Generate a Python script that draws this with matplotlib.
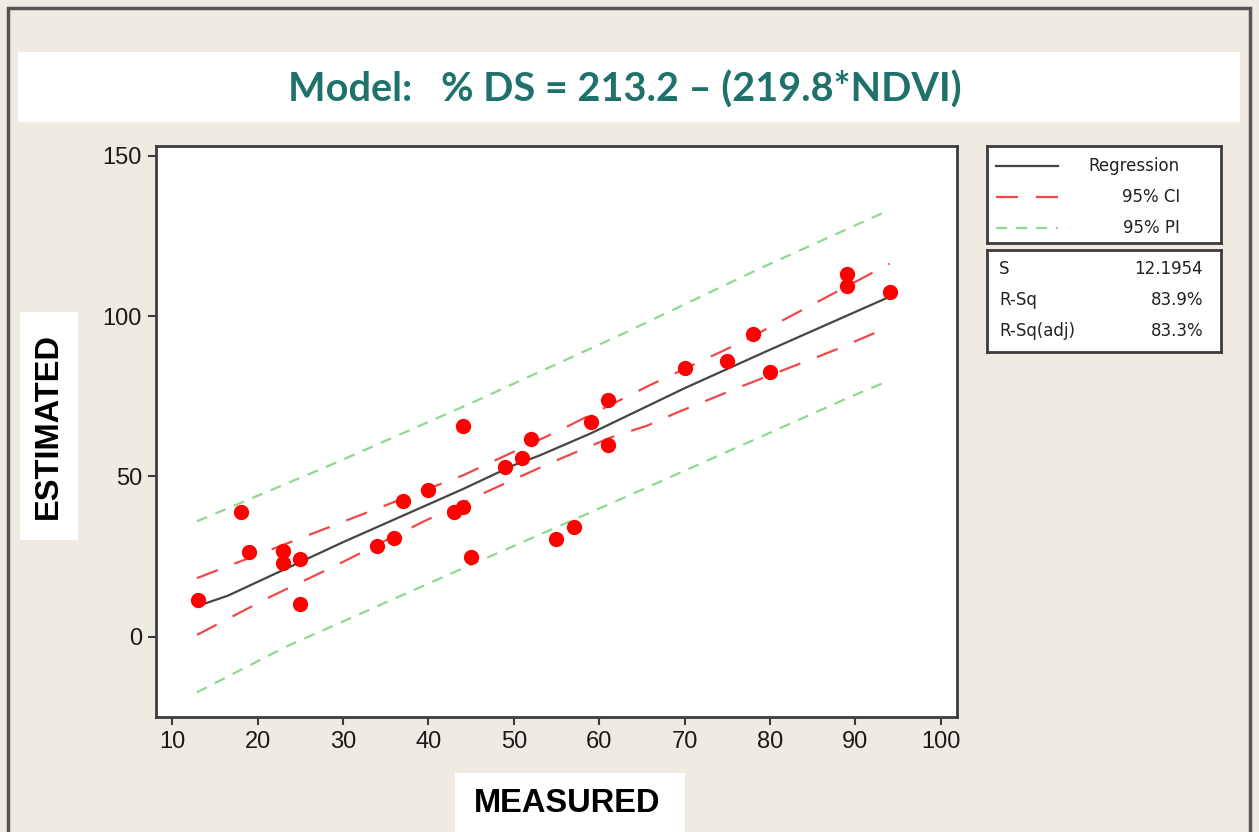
import matplotlib

matplotlib.use("Agg")

import matplotlib.pyplot as plt
from matplotlib.patches import Rectangle

# measured vs estimated % DS
measured = [13, 18, 19, 23, 23, 25, 25, 34, 36, 37, 40, 43, 44, 44, 45,
            49, 51, 52, 55, 57, 59, 61, 61, 70, 75, 78, 80, 89, 89, 94]
estimated = [11.5, 39.0, 26.5, 26.8, 22.9, 24.3, 10.2, 28.3, 30.7, 42.4, 45.7, 39.0, 40.4, 65.7, 24.8,
             53.0, 55.6, 61.8, 30.4, 34.3, 67.1, 59.8, 73.8, 83.9, 86.0, 94.5, 82.6, 113.2, 109.3, 107.5]

# fitted line and bands, traced as polylines
reg_x = [13.2, 16.5, 30, 44, 50, 53, 59, 70, 80, 94]
reg_y = [9.8, 12.8, 29.5, 46, 53.5, 56.5, 63.4, 77.5, 89.5, 106]
ci_up_x = [12.9, 28.5, 44.1, 55.4, 65.9, 76.7, 94]
ci_up_y = [18.3, 34.3, 50.4, 64.4, 78.4, 91.9, 116.3]
ci_lo_x = [12.9, 21.5, 28.9, 39.4, 46.4, 54.2, 61.5, 65.6, 69.1, 76.5, 87.8, 92.5]
ci_lo_y = [0.6, 12.5, 21.9, 35.9, 44.7, 54.1, 62.3, 65.8, 69.9, 77.9, 89.6, 95.0]
pi_up_x = [12.9, 28.5, 45.3, 63.2, 78.8, 93.6]
pi_up_y = [36.0, 53.5, 73.2, 95.0, 114.8, 132.6]
pi_lo_x = [12.9, 23.4, 44.5, 63.2, 89.4, 93.6]
pi_lo_y = [-17.3, -3.0, 21.9, 43.7, 74.8, 79.5]

legend_labels = ["Regression", "95% CI", "95% PI"]
stat_names = ["S", "R-Sq", "R-Sq(adj)"]
stat_values = ["12.1954", "83.9%", "83.3%"]
x_ticks = list(range(10, 101, 10))
y_ticks = [0, 50, 100, 150]

W, H = 1259, 832
BG = "#efebe2"
EDGE = "#3c3c3c"
SANS = ["Liberation Sans", "DejaVu Sans"]


def px_box(x0, y0, x1, y1):
    # pixel box (top-left origin) -> figure fraction rect
    return [x0 / W, 1 - y1 / H, (x1 - x0) / W, (y1 - y0) / H]


fig = plt.figure(figsize=(W / 100, H / 100), dpi=100, facecolor=BG)

# outer frame
fig.patches.append(Rectangle((8 / W, -0.01), 1242 / W, 1 - 8 / H + 0.01, transform=fig.transFigure,
                             fill=False, edgecolor="#555555", linewidth=2.5))

# title strip
fig.patches.append(Rectangle((18 / W, 1 - 122 / H), 1222 / W, 70 / H, transform=fig.transFigure,
                             facecolor="white", edgecolor="none"))
fig.text(625 / W, 1 - 90 / H, "Model:   % DS = 213.2 \u2013 (219.8*NDVI)", ha="center", va="center",
         color="#1f716c", fontsize=28.5, fontweight="bold", family=["Lato", "DejaVu Sans"])

ax = fig.add_axes(px_box(156, 146, 957, 717))
ax.set_facecolor("white")
ax.plot(pi_up_x, pi_up_y, color="#8fd88f", lw=1.6, dashes=(5, 4))
ax.plot(pi_lo_x, pi_lo_y, color="#8fd88f", lw=1.6, dashes=(5, 4))
ax.plot(ci_up_x, ci_up_y, color="#f04848", lw=1.6, dashes=(10, 8))
ax.plot(ci_lo_x, ci_lo_y, color="#f04848", lw=1.6, dashes=(10, 8))
ax.plot(reg_x, reg_y, color="#454545", lw=1.6)
ax.plot(measured, estimated, "o", color="#ff0000", markersize=11, markeredgewidth=0)

ax.set_xlim(8.1, 101.9)
ax.set_ylim(-25, 153)
ax.set_xticks(x_ticks)
ax.set_yticks(y_ticks)
for s in ax.spines.values():
    s.set_color(EDGE)
    s.set_linewidth(2)
ax.tick_params(direction="out", length=6, width=1.5, color=EDGE, labelsize=17, pad=4)
for lab in ax.get_xticklabels() + ax.get_yticklabels():
    lab.set_family(SANS)
    lab.set_color("#1a1a1a")

# axis titles in white boxes
fig.patches.append(Rectangle((20 / W, 1 - 540 / H), 58 / W, 228 / H, transform=fig.transFigure,
                             facecolor="white", edgecolor="none"))
fig.text(48 / W, 1 - 426 / H, "ESTIMATED", rotation=90, ha="center", va="center",
         fontsize=23.5, fontweight="bold", family=SANS)
fig.patches.append(Rectangle((455 / W, 0), 230 / W, 59 / H, transform=fig.transFigure,
                             facecolor="white", edgecolor="none"))
fig.text(567 / W, 1 - 803 / H, "MEASURED", ha="center", va="center",
         fontsize=23.5, fontweight="bold", family=SANS)

# legend box
lax = fig.add_axes(px_box(987, 146, 1221, 243))
lax.set_xlim(0, 234)
lax.set_ylim(97, 0)
lax.set_xticks([])
lax.set_yticks([])
lax.set_facecolor("white")
for s in lax.spines.values():
    s.set_color(EDGE)
    s.set_linewidth(2)
styles = [dict(color="#454545"), dict(color="#f04848", dashes=(10, 8)), dict(color="#8fd88f", dashes=(5, 4))]
for i, (lab, st) in enumerate(zip(legend_labels, styles)):
    yy = 20 + i * 31
    lax.plot([9, 71], [yy, yy], lw=1.6, **st)
    lax.text(193, yy, lab, ha="right", va="center", fontsize=12, family=["DejaVu Sans"], color="#222222")

# stats box
sax = fig.add_axes(px_box(987, 250, 1221, 352))
sax.set_xlim(0, 234)
sax.set_ylim(102, 0)
sax.set_xticks([])
sax.set_yticks([])
sax.set_facecolor("white")
for s in sax.spines.values():
    s.set_color(EDGE)
    s.set_linewidth(2)
for i, (name, val) in enumerate(zip(stat_names, stat_values)):
    yy = 19 + i * 31
    sax.text(12, yy, name, ha="left", va="center", fontsize=12, family=["DejaVu Sans"], color="#222222")
    sax.text(216, yy, val, ha="right", va="center", fontsize=12, family=["DejaVu Sans"], color="#222222")

fig.savefig("out.png", dpi=100, facecolor=BG)
